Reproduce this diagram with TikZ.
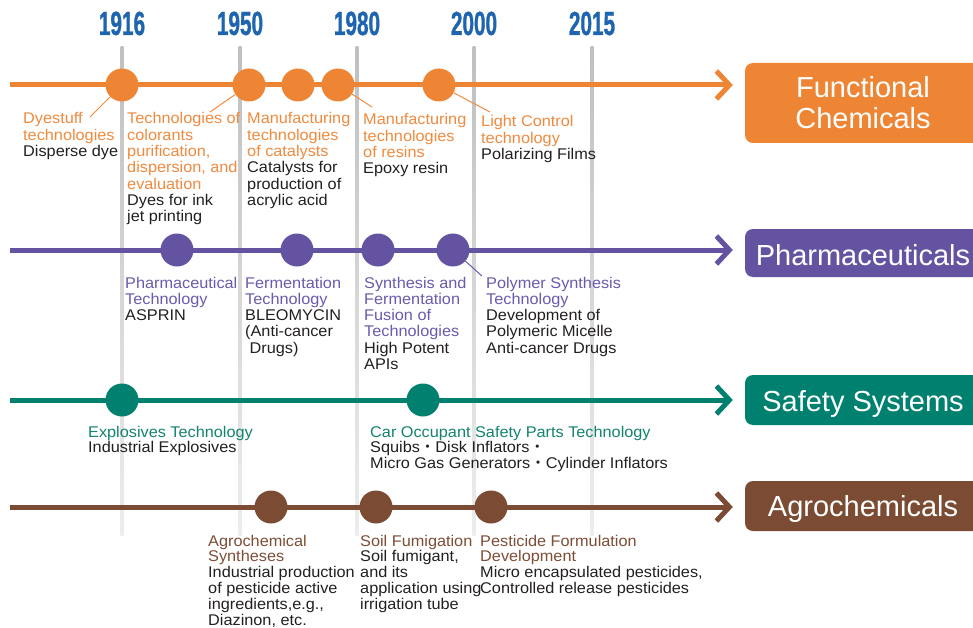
\documentclass[tikz,border=0pt]{standalone}
\usepackage{fontspec}
\setmainfont{Liberation Sans}[FakeStretch=1.05]
\newfontfamily\yearfont{Liberation Sans}[FakeStretch=0.62,FakeBold=0.8]
\newfontfamily\catfont{Liberation Sans}
\newfontfamily\cjk{Noto Sans CJK JP}
\usetikzlibrary{arrows.meta}
\definecolor{cO}{HTML}{EE8535}
\definecolor{cP}{HTML}{6453A1}
\definecolor{cG}{HTML}{00806F}
\definecolor{cB}{HTML}{7B4B33}
\definecolor{tO}{HTML}{F08A3E}
\definecolor{tP}{HTML}{6A5BAD}
\definecolor{tG}{HTML}{13836F}
\definecolor{tB}{HTML}{7D4D35}
\definecolor{yr}{HTML}{1E64AE}
\definecolor{ink}{HTML}{231F20}
\newcommand\Lines[1]{\begin{tabular}[t]{@{}l@{}}#1\end{tabular}}
\newcommand\cO[1]{\textcolor{tO}{#1}}
\newcommand\cP[1]{\textcolor{tP}{#1}}
\newcommand\cG[1]{\textcolor{tG}{#1}}
\newcommand\cB[1]{\textcolor{tB}{#1}}
\newcommand\jdot{{\cjk ・}}
\newcommand\dropby[2]{\raisebox{-#1}[\height][\depth]{#2}}
\begin{document}
\begin{tikzpicture}[x=1pt,y=-1pt,
  lab/.style={anchor=base west, inner sep=0pt, text=ink, font=\fontsize{15.5}{16.3}\selectfont},
  labmid/.style={lab, font=\fontsize{15.5}{15.8}\selectfont},
  labtight/.style={lab, font=\fontsize{15.5}{15.3}\selectfont},
  year/.style={anchor=base, inner sep=0pt, text=yr, font=\yearfont\bfseries\fontsize{33.5}{36}\selectfont},
  dot/.style={circle, minimum size=33pt, inner sep=0pt, fill=#1},
  cat/.style={fill=#1, rounded corners=8pt, minimum width=236pt, text=white, align=center, font=\catfont\fontsize{29}{31}\selectfont, inner sep=0pt},
  tl/.style={draw=#1, line width=5pt, shorten >=12pt, -{Straight Barb[length=13pt,width=28pt]}},
  lead/.style={draw=#1, line width=1pt},
  gridline/.style={top color=black!25, bottom color=black!7}
]
\useasboundingbox (0,0) rectangle (973,628);
% grid lines
\foreach \gx in {122,240,357,474,592}{
  \shade[gridline] (\gx-1.5,47) rectangle (\gx+1.5,535);
}
% years
\node[year] (y1) at (122,35) {1916};
\node[year] (y2) at (240,35) {1950};
\node[year] (y3) at (357,35) {1980};
\node[year] (y4) at (474,35) {2000};
\node[year] (y5) at (592,35) {2015};
% category boxes
\node[cat=cO, minimum height=80pt] (fc) at (863,103) {Functional\\Chemicals};
\node[cat=cP, minimum height=48pt] (ph) at (863,253) {\dropby{2pt}{Pharmaceuticals}};
\node[cat=cG, minimum height=50pt] (ss) at (863,400) {\dropby{4pt}{Safety Systems}};
\node[cat=cB, minimum height=50pt] (ag) at (863,506) {\dropby{3pt}{Agrochemicals}};
% timelines
\coordinate (sO) at (10,85);
\coordinate (sP) at (10,250);
\coordinate (sG) at (10,400);
\coordinate (sB) at (10,507);
\draw[tl=cO] (sO) -- (sO -| fc.west);
\draw[tl=cP] (sP) -- (sP -| ph.west);
\draw[tl=cG] (sG) -- (sG -| ss.west);
\draw[tl=cB] (sB) -- (sB -| ag.west);
% circles
\node[dot=cO] (o1) at (122,85) {};
\node[dot=cO] (o2) at (249,85) {};
\node[dot=cO] (o3) at (298,85) {};
\node[dot=cO] (o4) at (338,85) {};
\node[dot=cO] (o5) at (439,85) {};
\node[dot=cP] (p1) at (177,250) {};
\node[dot=cP] (p2) at (297,250) {};
\node[dot=cP] (p3) at (378,250) {};
\node[dot=cP] (p4) at (453,250) {};
\node[dot=cG] (g1) at (122,400) {};
\node[dot=cG] (g2) at (423,400) {};
\node[dot=cB] (b1) at (271,507) {};
\node[dot=cB] (b2) at (376,507) {};
\node[dot=cB] (b3) at (491,507) {};
% leader lines
\coordinate (e1) at (90,117);
\coordinate (e2) at (210,112);
\coordinate (e4) at (372,107);
\coordinate (e5) at (490,112);
\coordinate (ep4) at (482,276);
\draw[lead=tO] (o1) -- (e1);
\draw[lead=tO] (o2) -- (e2);
\draw[lead=tO] (o4) -- (e4);
\draw[lead=tO] (o5) -- (e5);
\draw[lead=tP] (p4) -- (ep4);
% functional chemicals labels
\node[lab] (lo1) at (23,124) {\Lines{\cO{Dyestuff}\\\cO{technologies}\\Disperse dye}};
\node[lab] (lo2) at (127,124) {\Lines{\cO{Technologies of}\\\cO{colorants}\\\cO{purification,}\\\cO{dispersion, and}\\\cO{evaluation}\\Dyes for ink\\jet printing}};
\node[lab] (lo3) at (247,124) {\Lines{\cO{Manufacturing}\\\cO{technologies}\\\cO{of catalysts}\\Catalysts for\\production of\\acrylic acid}};
\node[lab] (lo4) at (363,125) {\Lines{\cO{Manufacturing}\\\cO{technologies}\\\cO{of resins}\\Epoxy resin}};
\node[lab] (lo5) at (481,127) {\Lines{\cO{Light Control}\\\cO{technology}\\Polarizing Films}};
% pharmaceuticals labels
\node[lab] (lp1) at (125,288) {\Lines{\cP{Pharmaceutical}\\\cP{Technology}\\ASPRIN}};
\node[lab] (lp2) at (245,288) {\Lines{\cP{Fermentation}\\\cP{Technology}\\BLEOMYCIN\\(Anti-cancer\\\ Drugs)}};
\node[lab] (lp3) at (364,288) {\Lines{\cP{Synthesis and}\\\cP{Fermentation}\\\cP{Fusion of}\\\cP{Technologies}\\High Potent\\APIs}};
\node[lab] (lp4) at (486,288) {\Lines{\cP{Polymer Synthesis}\\\cP{Technology}\\Development of\\Polymeric Micelle\\Anti-cancer Drugs}};
% safety labels
\node[labmid] (lg1) at (88,437) {\Lines{\cG{Explosives Technology}\\Industrial Explosives}};
\node[labmid] (lg2) at (370,437) {\Lines{\cG{Car Occupant Safety Parts Technology}\\Squibs\jdot Disk Inflators\jdot\\Micro Gas Generators\jdot Cylinder Inflators}};
% agro labels
\node[labtight] (lb1) at (208,546) {\Lines{\cB{Agrochemical}\\\cB{Syntheses}\\Industrial production\\of pesticide active\\ingredients,e.g.,\\Diazinon, etc.}};
\node[labtight] (lb2) at (360,546) {\Lines{\cB{Soil Fumigation}\\Soil fumigant,\\and its\\application using\\irrigation tube}};
\node[labtight] (lb3) at (480,546) {\Lines{\cB{Pesticide Formulation}\\\cB{Development}\\Micro encapsulated pesticides,\\Controlled release pesticides}};
\end{tikzpicture}
\end{document}
